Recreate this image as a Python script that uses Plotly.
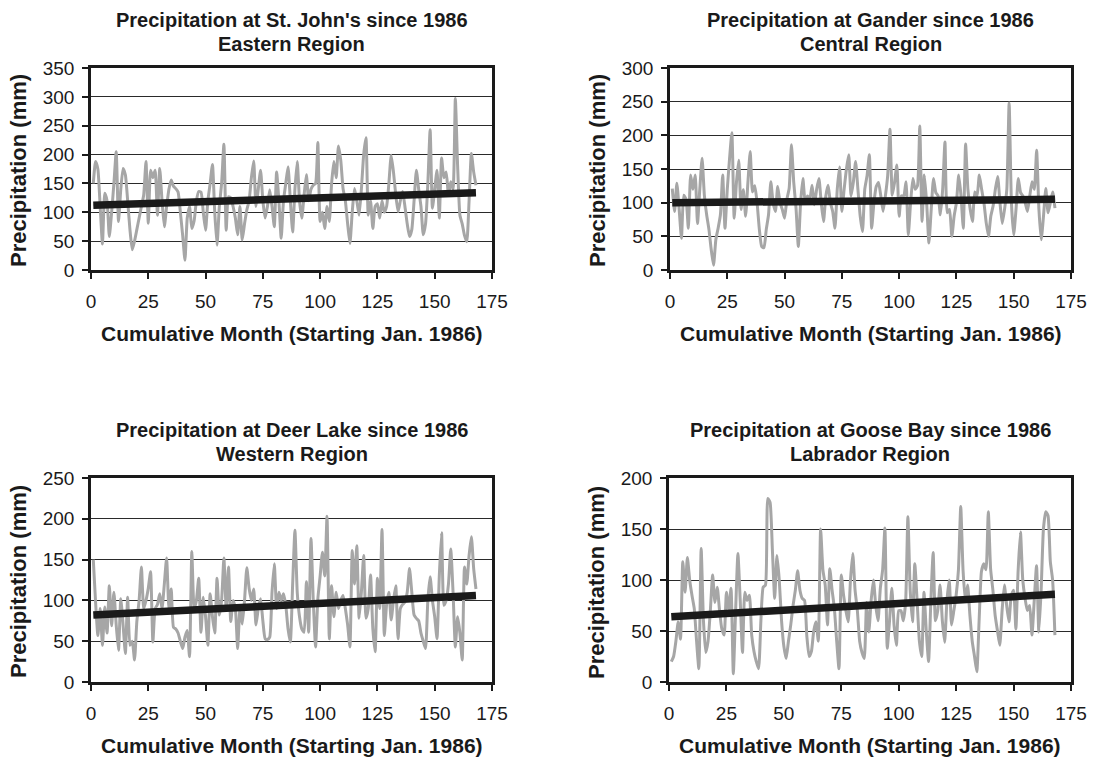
import plotly.graph_objects as go

months = list(range(1, 169))

stjohns = [150,188,175,110,45,133,120,58,100,150,205,84,140,176,165,120,70,35,50,70,
           90,110,130,188,81,173,160,173,95,176,120,75,110,140,156,145,141,135,100,60,
           17,90,110,72,85,120,136,135,100,69,120,150,183,100,43,110,150,218,69,127,
           125,110,90,61,110,52,80,104,120,160,189,110,140,173,120,90,110,139,110,75,
           170,120,55,120,150,179,120,66,140,188,120,90,130,165,120,140,147,150,221,84,
           100,72,110,84,150,188,160,215,190,141,120,80,46,100,141,120,95,140,200,229,
           95,120,72,110,115,90,120,100,110,150,199,170,130,101,120,136,110,80,58,70,
           120,173,140,110,61,80,150,243,107,140,173,90,194,160,170,130,153,140,297,180,
           95,80,60,49,120,202,170,147]

gander = [121,87,129,90,47,111,105,62,141,120,141,69,120,166,111,82,60,30,7,45,
          62,82,141,62,120,166,204,77,130,163,90,119,80,130,176,116,125,100,60,35,
          33,60,82,131,100,87,124,100,90,77,105,121,186,130,92,35,100,136,100,110,
          105,126,97,120,136,100,72,110,126,100,87,62,120,153,87,120,150,171,110,130,
          161,120,80,57,120,140,171,62,100,124,130,110,87,110,140,209,111,130,156,80,
          110,110,131,52,100,136,120,125,214,72,141,100,40,90,136,115,110,82,120,190,
          85,90,50,80,100,141,110,62,187,120,90,72,116,110,141,120,100,70,50,80,
          95,120,139,100,69,90,120,248,100,52,90,136,115,110,100,87,110,131,120,178,
          90,45,80,121,85,100,116,92]

deerlake = [150,98,57,90,45,92,60,118,69,110,70,39,102,70,35,104,45,50,27,74,
            100,141,90,100,115,135,49,90,95,108,90,120,152,90,114,67,65,60,50,41,
            55,63,31,160,90,100,127,61,104,80,45,108,80,60,127,82,100,152,90,141,
            74,100,90,41,90,71,100,140,115,100,114,70,90,102,75,53,52,55,110,145,
            90,110,100,108,94,65,49,120,186,110,80,65,61,123,61,176,100,43,102,130,
            159,130,203,53,118,80,110,90,100,106,90,70,43,161,120,167,78,110,155,78,
            90,131,65,37,127,90,187,57,95,110,76,100,118,53,90,95,98,110,139,110,
            82,78,75,60,50,41,100,129,100,80,53,130,183,94,100,120,163,110,43,80,
            60,27,141,120,155,178,139,114]

goosebay = [20,25,40,59,42,118,88,122,100,85,72,40,13,131,60,29,40,70,105,78,
            93,70,52,46,88,70,92,8,70,126,80,29,88,80,85,46,30,20,13,60,
            93,95,180,176,130,82,124,100,60,35,23,40,56,75,90,109,90,82,80,45,
            25,30,50,59,40,150,110,95,56,111,90,72,40,13,105,85,70,59,100,126,
            90,70,40,29,23,78,49,80,100,75,60,92,110,151,33,60,92,55,36,70,
            70,60,78,162,90,59,116,80,40,25,88,50,20,80,127,60,70,95,60,39,
            80,100,56,70,85,110,172,110,80,95,65,40,25,10,60,108,116,110,167,111,
            90,65,50,36,70,95,75,59,85,90,52,110,147,100,82,70,75,46,80,114,
            49,90,150,167,163,118,100,46]

stations = ["St. John's", "Gander", "Deer Lake", "Goose Bay"]
regions = ["Eastern Region", "Central Region", "Western Region", "Labrador Region"]
series = [stjohns, gander, deerlake, goosebay]
trend_start = [112, 100, 82, 64]
trend_end = [134, 105, 106, 86]
y_max = [350, 300, 250, 200]
y_step = [50, 50, 50, 50]
x_ticks = [0, 25, 50, 75, 100, 125, 150, 175]

W, H = 1095, 765
# plot-area pixel boxes (left, right, top, bottom)
boxes = [(91, 492, 68, 270), (670, 1071, 68, 270),
         (91, 492, 478, 682), (669, 1071, 478, 682)]

FONT = "Liberation Sans, Arial, sans-serif"
INK = "#1a1a1a"
fig = go.Figure()
annotations = []

for i in range(4):
    l, r, t, b = boxes[i]
    ax = "" if i == 0 else str(i + 1)
    xref = "x" + ax
    yref = "y" + ax
    fig.add_trace(go.Scatter(x=months, y=series[i], mode="lines",
                             line=dict(color="#a6a6a6", width=3, shape="spline", smoothing=0.5),
                             xaxis=xref, yaxis=yref, showlegend=False,
                             hoverinfo="skip"))
    fig.add_trace(go.Scatter(x=[months[0], months[-1]], y=[trend_start[i], trend_end[i]],
                             mode="lines", line=dict(color=INK, width=7.5),
                             xaxis=xref, yaxis=yref, showlegend=False,
                             hoverinfo="skip"))
    xd = [l / W, r / W]
    yd = [1 - b / H, 1 - t / H]
    common = dict(showline=True, linecolor=INK, linewidth=2.5, mirror=True,
                  ticks="outside", ticklen=6, tickcolor=INK, tickwidth=1.5,
                  tickfont=dict(family=FONT, size=19, color=INK), zeroline=False,
                  automargin=False)
    fig.layout["xaxis" + ax] = dict(domain=xd, anchor=yref, range=[0, 175],
                                    tickvals=x_ticks, showgrid=False,
                                    ticklabelstandoff=6, **common)
    fig.layout["yaxis" + ax] = dict(domain=yd, anchor=xref, range=[0, y_max[i]],
                                    dtick=y_step[i], tick0=0, showgrid=True,
                                    gridcolor="#2a2a2a", gridwidth=1.2,
                                    ticklabelstandoff=4, **common)
    cx = (l + r) / 2 / W
    annotations.append(dict(text="<b>Precipitation at " + stations[i] + " since 1986</b>",
                            x=cx, y=1 - (t - 48) / H, xref="paper", yref="paper",
                            showarrow=False, xanchor="center", yanchor="middle",
                            font=dict(family=FONT, size=20, color=INK)))
    annotations.append(dict(text="<b>" + regions[i] + "</b>",
                            x=cx, y=1 - (t - 24) / H, xref="paper", yref="paper",
                            showarrow=False, xanchor="center", yanchor="middle",
                            font=dict(family=FONT, size=20, color=INK)))
    annotations.append(dict(text="<b>Cumulative Month (Starting Jan. 1986)</b>",
                            x=cx, y=1 - (b + 63) / H, xref="paper", yref="paper",
                            showarrow=False, xanchor="center", yanchor="middle",
                            font=dict(family=FONT, size=21, color=INK)))
    annotations.append(dict(text="<b>Precipitation (mm)</b>", textangle=-90,
                            x=(l - 73) / W, y=1 - (t + b + 4) / 2 / H, xref="paper", yref="paper",
                            showarrow=False, xanchor="center", yanchor="middle",
                            font=dict(family=FONT, size=22, color=INK)))

fig.update_layout(width=W, height=H, margin=dict(l=0, r=0, t=0, b=0),
                  paper_bgcolor="white", plot_bgcolor="white",
                  annotations=annotations, showlegend=False)
fig.write_html("out.html", config={"displayModeBar": False},
               post_script="document.body.style.margin='0';document.body.style.overflow='hidden';")
